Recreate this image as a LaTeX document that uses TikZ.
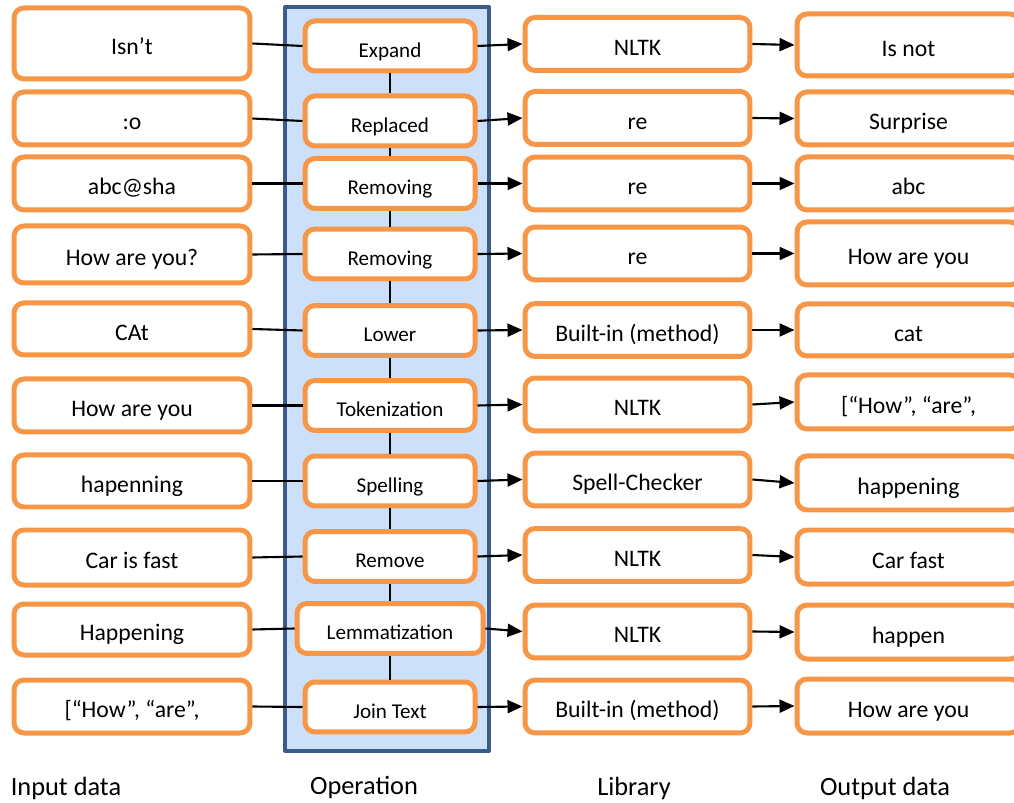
\documentclass[tikz,border=0pt]{standalone}
\usepackage{fontspec}
\setmainfont{Carlito}
\usetikzlibrary{arrows.meta}

\definecolor{boxorange}{HTML}{F79646}
\definecolor{panelfill}{HTML}{CCE0F9}
\definecolor{paneldraw}{HTML}{3A5C8B}

\tikzset{
    databox/.style={draw=boxorange, line width=0.1cm, rounded corners=0.2cm,
        fill=white, inner sep=0pt, text height=13pt, text depth=0pt,
        font=\fontsize{13.5}{16}\selectfont},
    opbox/.style={databox, font=\fontsize{12}{14}\selectfont},
    link/.style={line width=1.2pt},
    flow/.style={link, -{Triangle[length=0.3cm,width=0.26cm]}},
    collabel/.style={font=\fontsize{15}{18}\selectfont}
}

\begin{document}
\begin{tikzpicture}[
        x=0.02cm,
        y=-0.02cm,
        line join=round
    ]
        % 画布大小（像素坐标）
        \useasboundingbox (0,0) rectangle (1014,803);
        \clip (0,0) rectangle (1014,803);

        % 各列中心
        \def\xin{132}
        \def\xop{390}
        \def\xlib{637.5}
        \def\xout{908.5}

        % 操作列的底板
        \draw[paneldraw, fill=panelfill, line width=0.08cm] (285,7) rectangle (489,751);

        % 每一行：输入 / 操作 / 库 / 输出
        \foreach \i/\yin/\hin/\yop/\wop/\ylib/\yout/\hout/\inp/\op/\lib/\out in {
            1/43.5/71/46/170/44/45/62/Isn’t/Expand/NLTK/Is not,
            2/118.5/53/121/170/118/118.5/53/:o/Replaced/re/Surprise,
            3/183.5/53/183.5/170/183.5/183.5/53/abc@sha/Removing/re/abc,
            4/254.5/57/254/170/253.5/253.5/63/How are you?/Removing/re/How are you,
            5/329/52/330.5/170/330/330/52/CAt/Lower/Built-in (method)/cat,
            6/405.5/53/405.5/170/404.5/402/54/How are you/Tokenization/NLTK/{[“How”, “are”,},
            7/481/52/481/170/479.5/483/54/hapenning/Spelling/Spell-Checker/happening,
            8/557.5/55/556.5/170/555/557/54/Car is fast/Remove/NLTK/Car fast,
            9/629.5/51/628.5/186/631.5/632/54/Happening/Lemmatization/NLTK/happen,
            10/706.5/53/707/170/706.5/706/54/{[“How”, “are”,}/Join Text/Built-in (method)/How are you} {
            \node[databox, minimum width=4.72cm, minimum height=\hin*0.02cm]
                (in\i) at (\xin,\yin) {\inp};
            \node[opbox, minimum width=\wop*0.02cm, minimum height=1cm]
                (op\i) at (\xop,\yop) {\op};
            \node[databox, minimum width=4.5cm, minimum height=1.06cm]
                (lib\i) at (\xlib,\ylib) {\lib};
            \node[databox, minimum width=4.46cm, minimum height=\hout*0.02cm]
                (out\i) at (\xout,\yout) {\out};
        }

        % 连线与箭头
        \foreach \i in {1,...,10} {
            \draw[link] (in\i.east) -- (op\i.west);
            \draw[flow] (op\i.east) -- (lib\i.west);
            \draw[flow] (lib\i.east) -- (out\i.west);
        }

        % 操作之间的竖线
        \foreach \i in {1,...,9} {
            \pgfmathtruncatemacro\j{\i+1}
            \draw[link] (op\i.south) -- (op\j.north);
        }

        % 列标题
        \node[collabel] (lblin) at (66,788) {Input data};
        \node[collabel] (lblop) at (364,788) {Operation};
        \node[collabel] (lbllib) at (634,788) {Library};
        \node[collabel] (lblout) at (885,788) {Output data};
    \end{tikzpicture}
\end{document}
